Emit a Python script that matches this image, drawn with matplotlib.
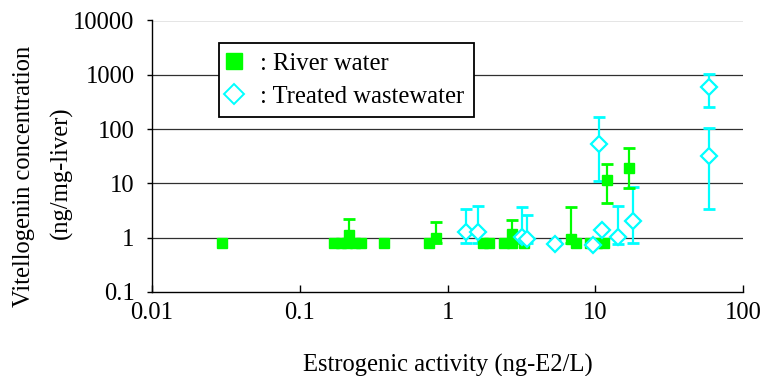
import matplotlib
matplotlib.use("Agg")
import matplotlib.pyplot as plt
from matplotlib.lines import Line2D
import numpy as np

# River water (green squares)
river_x = [0.03, 0.17, 0.19, 0.21, 0.215, 0.235, 0.26, 0.37, 0.75, 0.84,
           1.75, 1.9, 2.4, 2.75, 2.75, 3.3, 6.9, 7.4, 9.2, 10.3, 11.5, 12.0, 17.0]
river_y = [0.8, 0.8, 0.8, 0.8, 1.1, 0.8, 0.8, 0.8, 0.8, 1.0,
           0.8, 0.8, 0.8, 0.8, 1.15, 0.8, 0.95, 0.8, 0.8, 0.8, 0.8, 11.6, 19.2]
river_lo = [0.8, 0.8, 0.8, 0.8, 0.8, 0.8, 0.8, 0.8, 0.8, 0.8,
            0.8, 0.8, 0.8, 0.8, 0.8, 0.8, 0.8, 0.8, 0.8, 0.8, 0.8, 4.4, 8.2]
river_hi = [0.8, 0.8, 0.8, 0.8, 2.2, 0.8, 0.8, 0.8, 0.8, 1.95,
            0.8, 0.8, 0.8, 0.8, 2.1, 0.8, 3.6, 0.8, 0.8, 0.8, 0.8, 22.8, 45.0]
river_has_err = [False, False, False, False, True, False, False, False, False, True,
                 False, False, False, False, True, False, True, False, False, False, False, True, True]

# Treated wastewater (cyan diamonds)
treated_x = [1.34, 1.62, 3.2, 3.45, 5.3, 9.7, 10.6, 11.1, 14.3, 18.0, 59.0, 59.0]
treated_y = [1.27, 1.27, 1.05, 0.95, 0.75, 0.72, 53.0, 1.4, 1.03, 2.03, 596.0, 32.0]
treated_lo = [0.8, 0.8, 0.8, 0.8, 0.75, 0.72, 11.0, 1.4, 0.78, 0.8, 255.0, 3.4]
treated_hi = [3.4, 3.8, 3.6, 2.6, 0.9, 0.72, 167.0, 1.4, 3.8, 8.6, 1035.0, 105.0]
treated_has_err = [True, True, True, True, True, False, True, False, True, True, True, True]

y_ticks = [0.1, 1, 10, 100, 1000, 10000]
y_ticklabels = ["0.1", "1", "10", "100", "1000", "10000"]
x_ticks = [0.01, 0.1, 1, 10, 100]
x_ticklabels = ["0.01", "0.1", "1", "10", "100"]

GREEN = "#00FF00"
CYAN = "#00FFFF"
FONT = "Liberation Serif"
FS = 17.7

plt.rcParams["font.family"] = [FONT, "DejaVu Serif"]

fig = plt.figure(figsize=(7.65, 3.76), dpi=100)
ax = fig.add_axes([152 / 765, 1 - 292 / 376, (743 - 152) / 765, (292 - 20.5) / 376])
ax.set_xscale("log")
ax.set_yscale("log")
ax.set_xlim(0.01, 100)
ax.set_ylim(0.1, 10000)

for yv in [1, 10, 100, 1000, 10000]:
    ax.axhline(yv, color="#303030", lw=0.9, zorder=1)

# error bars
def draw_err(xs, ys, lo, hi, has, color, z):
    xs = np.array(xs); ys = np.array(ys); lo = np.array(lo); hi = np.array(hi)
    m = np.array(has)
    ax.errorbar(xs[m], ys[m], yerr=[ys[m] - lo[m], hi[m] - ys[m]], fmt="none",
                ecolor=color, elinewidth=1.6, capsize=4.0, capthick=2.0, zorder=z)

draw_err(treated_x, treated_y, treated_lo, treated_hi, treated_has_err, CYAN, 2)
draw_err(river_x, river_y, river_lo, river_hi, river_has_err, GREEN, 3)

ax.plot(river_x, river_y, linestyle="none", marker="s", markersize=7.2,
        markerfacecolor=GREEN, markeredgecolor=GREEN, zorder=4)
ax.plot(treated_x, treated_y, linestyle="none", marker="D", markersize=7.8,
        markerfacecolor="white", markeredgecolor=CYAN, markeredgewidth=1.6, zorder=5)

ax.set_xticks(x_ticks)
ax.set_xticklabels(x_ticklabels)
ax.set_yticks(y_ticks)
ax.set_yticklabels(y_ticklabels)
ax.minorticks_off()
ax.tick_params(axis="x", direction="in", length=5, width=1, pad=7, labelsize=FS)
ax.tick_params(axis="y", direction="out", length=3.6, width=1, pad=9, labelsize=FS)
for s in ["top", "right"]:
    ax.spines[s].set_visible(False)
for s in ["left", "bottom"]:
    ax.spines[s].set_linewidth(1.0)
    ax.spines[s].set_color("black")

handles = [
    Line2D([], [], linestyle="none", marker="s", markersize=11.5,
           markerfacecolor=GREEN, markeredgecolor=GREEN),
    Line2D([], [], linestyle="none", marker="D", markersize=10.5,
           markerfacecolor="white", markeredgecolor=CYAN, markeredgewidth=1.4),
]
leg = ax.legend(handles, [": River water", ": Treated wastewater"],
                loc="upper left", bbox_to_anchor=((219 - 152) / 591, (292 - 43) / 271.5),
                borderaxespad=0, fancybox=False, frameon=True, fontsize=FS,
                handlelength=0.45, handletextpad=0.82, borderpad=0.4, labelspacing=0.42,
                edgecolor="black", framealpha=1)
leg.get_frame().set_linewidth(1.3)

fig.text(24 / 765, 1 - 176 / 376, "Vitellogenin concentration", rotation=90,
         ha="center", va="center", fontsize=FS)
fig.text(61 / 765, 1 - 173 / 376, "(ng/mg-liver)", rotation=90,
         ha="center", va="center", fontsize=FS)
fig.text(448 / 765, 1 - 372 / 376, "Estrogenic activity (ng-E2/L)",
         ha="center", va="baseline", fontsize=FS)

fig.savefig("out.png", dpi=100)
